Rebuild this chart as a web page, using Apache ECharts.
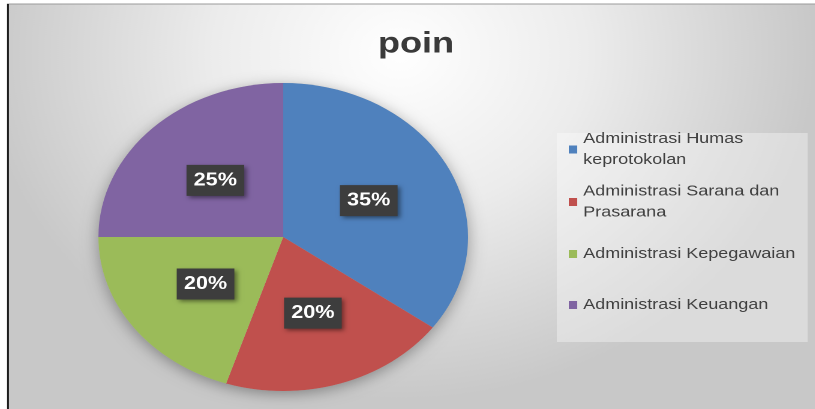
<!DOCTYPE html>
<html><head><meta charset="utf-8">
<script src="https://cdn.jsdelivr.net/npm/echarts@6/dist/echarts.min.js"></script>
<style>
html,body{margin:0;padding:0;background:#fff;overflow:hidden}
#c{width:679px;height:409px;transform:scaleX(1.2);transform-origin:0 0;}
</style>
</head><body><div id="c"></div>
<script>
const titleText = 'poin';
const categories = ['Administrasi Humas keprotokolan', 'Administrasi Sarana dan Prasarana', 'Administrasi Kepegawaian', 'Administrasi Keuangan'];
const values = [35, 20, 20, 25];
const colors = ['#4f81bd', '#c0504d', '#9bbb59', '#8064a2'];

const chart = echarts.init(document.getElementById('c'), null, {renderer: 'canvas', devicePixelRatio: 2});
const FONT = '"Liberation Sans", Arial, sans-serif';
const legendTops = [118, 170.5, 243.5, 294.5];
const twoLine = [true, true, false, false];

const legends = categories.map((name, i) => ({
  data: [name],
  orient: 'vertical',
  left: 474,
  top: legendTops[i],
  padding: 0,
  itemWidth: 7,
  itemHeight: 8,
  icon: 'rect',
  selectedMode: false,
  textStyle: {
    fontFamily: FONT,
    fontSize: 15,
    color: '#404040',
    lineHeight: 21,
    width: 190,
    overflow: 'break',
    padding: twoLine[i] ? [21, 0, 0, 0] : 0
  }
}));

chart.setOption({
  animation: false,
  color: colors,
  title: {
    text: titleText,
    left: 310,
    top: 24,
    textStyle: {fontFamily: FONT, fontSize: 30, fontWeight: 'bold', color: '#3a3a3a'}
  },
  legend: legends,
  graphic: [
    {type: 'rect', z: -10, silent: true, shape: {x: 6.7, y: 4, width: 680, height: 410},
     style: {fill: new echarts.graphic.RadialGradient(0.48, 0.12, 0.85, [
       {offset: 0, color: '#ffffff'}, {offset: 0.45, color: '#ececec'}, {offset: 1, color: '#c8c8c8'}])}},
    {type: 'rect', z: -9, silent: true, shape: {x: 464, y: 133, width: 209, height: 209},
     style: {fill: 'rgba(255,255,255,0.35)'}},
    {type: 'rect', z: -8, silent: true, shape: {x: 5.9, y: 3.5, width: 680, height: 1}, style: {fill: '#9a9a9a'}},
    {type: 'rect', z: -8, silent: true, shape: {x: 5.9, y: 4, width: 1.5, height: 410}, style: {fill: '#111111'}}
  ],
  series: [
    {
      type: 'pie', silent: true, center: [236, 237], radius: 154, z: 1,
      data: [{value: 1, name: ''}],
      label: {show: false}, labelLine: {show: false},
      itemStyle: {color: '#bdbdbd', shadowBlur: 14, shadowColor: 'rgba(0,0,0,0.35)', shadowOffsetY: 3}
    },
    {
      type: 'pie', center: [236, 237], radius: 154, startAngle: 90, clockwise: true, z: 2,
      data: categories.map((n, i) => ({name: n, value: values[i]})),
      label: {
        show: true, position: 'inside', formatter: '{c}%',
        fontFamily: FONT, fontSize: 18, fontWeight: 'bold', color: '#ffffff',
        backgroundColor: '#3d3d3d', padding: [7, 6, 6, 6],
        shadowBlur: 4, shadowOffsetX: 2, shadowOffsetY: 2, shadowColor: 'rgba(0,0,0,0.45)'
      },
      labelLine: {show: false},
      emphasis: {disabled: true},
      itemStyle: {borderWidth: 0}
    }
  ]
});
</script>
</body></html>
